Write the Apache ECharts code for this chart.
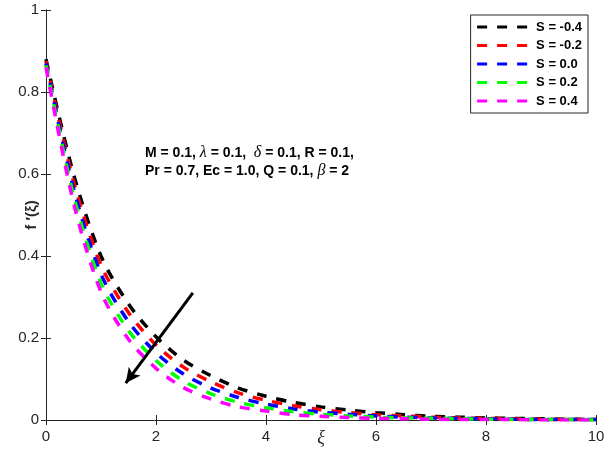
<!DOCTYPE html>
<html>
<head>
<meta charset="utf-8">
<script src="https://cdn.jsdelivr.net/npm/echarts@6/dist/echarts.min.js"></script>
<style>
  html, body { margin: 0; padding: 0; background: #fff; }
  #chart { width: 610px; height: 450px; }
</style>
</head>
<body>
<div id="chart"></div>
<script>
// xi positions and f'(xi) values
var xi = [0, 0.5, 1, 1.5, 2, 2.5, 3, 3.5, 4, 4.5, 5, 5.5, 6, 6.5, 7, 7.5, 8, 8.5, 9, 9.5, 10];
var sM04 = [0.88, 0.60, 0.40, 0.283, 0.203, 0.146, 0.108, 0.078, 0.058, 0.043, 0.032, 0.024, 0.018, 0.013, 0.009, 0.007, 0.005, 0.004, 0.003, 0.002, 0.001];
var sM02 = [0.875, 0.582, 0.378, 0.262, 0.183, 0.129, 0.093, 0.066, 0.048, 0.035, 0.025, 0.018, 0.013, 0.010, 0.007, 0.005, 0.004, 0.003, 0.002, 0.001, 0.001];
var s00 = [0.87, 0.565, 0.356, 0.240, 0.164, 0.112, 0.078, 0.055, 0.039, 0.027, 0.019, 0.014, 0.010, 0.007, 0.005, 0.004, 0.003, 0.002, 0.001, 0.001, 0.001];
var s02 = [0.865, 0.548, 0.334, 0.218, 0.145, 0.095, 0.064, 0.043, 0.030, 0.020, 0.014, 0.010, 0.007, 0.005, 0.004, 0.003, 0.002, 0.001, 0.001, 0.001, 0];
var s04 = [0.86, 0.53, 0.312, 0.197, 0.126, 0.079, 0.051, 0.032, 0.022, 0.013, 0.009, 0.006, 0.004, 0.003, 0.002, 0.001, 0.001, 0.001, 0, 0, 0];

var names = ['S = -0.4', 'S = -0.2', 'S = 0.0', 'S = 0.2', 'S = 0.4'];
var colors = ['#000000', '#ff0000', '#0000ff', '#00ff00', '#ff00ff'];
var values = [sM04, sM02, s00, s02, s04];

// arrow: from [xi, f'] to [xi, f']
var arrowFrom = [2.67, 0.31];
var arrowTo = [1.45, 0.09];

var axisColor = '#262626';
var myChart = echarts.init(document.getElementById('chart'));

var seriesArr = names.map(function (n, i) {
    return {
        name: n,
        type: 'line',
        smooth: 0.3,
        symbol: 'none',
        silent: true,
        color: colors[i],
        lineStyle: { color: colors[i], width: 3.5, type: [10, 10] },
        data: xi.map(function (x, j) { return [x, values[i][j]]; })
    };
});

// the arrow rides on the first series
seriesArr[0].markLine = {
    silent: true,
    symbol: ['none', 'arrow'],
    symbolSize: [11, 15],
    label: { show: false },
    lineStyle: { color: '#000', width: 3, type: 'solid' },
    data: [[{ coord: arrowFrom }, { coord: arrowTo }]]
};

var option = {
    animation: false,
    grid: { left: 46, right: 14, top: 10, bottom: 30, containLabel: false, outerBoundsMode: 'none' },
    legend: {
        orient: 'vertical',
        right: 22,
        top: 15,
        itemWidth: 51,
        itemHeight: 14,
        itemGap: 5.5,
        padding: [5.5, 6, 5.5, 5],
        borderColor: axisColor,
        borderWidth: 1,
        backgroundColor: '#fff',
        selectedMode: false,
        itemStyle: { opacity: 0, borderWidth: 0 },
        lineStyle: { width: 3 },
        textStyle: { fontFamily: 'Liberation Sans', fontWeight: 'bold', fontSize: 13, color: '#000', padding: [0, 0, 0, 3] },
        data: names
    },
    xAxis: [{
        type: 'value',
        min: 0, max: 10, interval: 2,
        name: 'ξ',
        nameLocation: 'middle',
        nameGap: 9,
        nameMoveOverlap: false,
        nameTextStyle: { fontFamily: 'Liberation Serif', fontStyle: 'italic', fontSize: 18, color: axisColor },
        axisLine: { lineStyle: { color: axisColor, width: 1 } },
        axisTick: { inside: true, length: 5, lineStyle: { color: axisColor } },
        axisLabel: { fontFamily: 'Liberation Sans', fontSize: 15, color: axisColor, margin: 9 },
        splitLine: { show: false }
    }, {
        type: 'value',
        position: 'top',
        min: 0, max: 10, interval: 2,
        axisLine: { show: true, lineStyle: { color: axisColor, width: 1 } },
        axisTick: { inside: true, length: 5, lineStyle: { color: axisColor } },
        axisLabel: { show: false },
        splitLine: { show: false }
    }],
    yAxis: [{
        type: 'value',
        min: 0, max: 1, interval: 0.2,
        name: 'f ′(ξ)',
        nameLocation: 'middle',
        nameRotate: 90,
        nameGap: 7,
        nameMoveOverlap: false,
        nameTextStyle: { fontFamily: 'Liberation Sans', fontWeight: 'bold', fontSize: 15, color: axisColor },
        axisLine: { show: true, lineStyle: { color: axisColor, width: 1 } },
        axisTick: { show: true, inside: true, length: 5, lineStyle: { color: axisColor } },
        axisLabel: { fontFamily: 'Liberation Sans', fontSize: 15, color: axisColor, margin: 7 },
        splitLine: { show: false }
    }, {
        type: 'value',
        position: 'right',
        min: 0, max: 1, interval: 0.2,
        axisLine: { show: true, lineStyle: { color: axisColor, width: 1 } },
        axisTick: { show: true, inside: true, length: 5, lineStyle: { color: axisColor } },
        axisLabel: { show: false },
        splitLine: { show: false }
    }],
    graphic: [{
        type: 'text',
        left: 145,
        top: 145,
        silent: true,
        style: {
            text: '{b|M = 0.1, }{g|λ}{b| = 0.1,  }{g|δ}{b| = 0.1, R = 0.1,}\n{b|Pr = 0.7, Ec = 1.0, Q = 0.1, }{g|β}{b| = 2}',
            rich: {
                b: { fontFamily: 'Liberation Sans', fontWeight: 'bold', fontSize: 14, fill: '#000', lineHeight: 18 },
                g: { fontFamily: 'Liberation Serif', fontStyle: 'italic', fontSize: 16, fill: '#000', lineHeight: 18 }
            }
        }
    }],
    series: seriesArr
};

myChart.setOption(option);
window.addEventListener('resize', function () {
    myChart.resize();
});
</script>
</body>
</html>
